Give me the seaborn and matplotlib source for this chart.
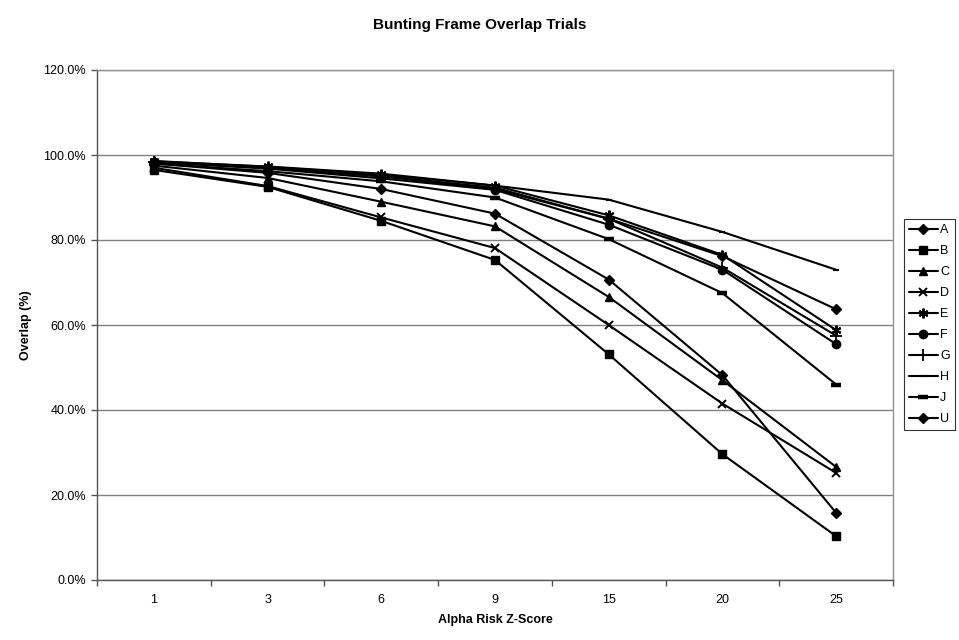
import matplotlib
matplotlib.use("Agg")
import matplotlib.pyplot as plt
import seaborn as sns
import pandas as pd
import numpy as np
from matplotlib.ticker import FixedLocator, PercentFormatter

# ---- data ----
zscores = ["1", "3", "6", "9", "15", "20", "25"]
series_names = ["A", "B", "C", "D", "E", "F", "G", "H", "J", "U"]
A = [98.0, 95.8, 92.0, 86.2, 70.7, 48.2, 15.8]
B = [96.5, 92.5, 84.5, 75.3, 53.1, 29.6, 10.3]
C = [97.5, 94.6, 89.0, 83.2, 66.6, 47.0, 26.6]
D = [97.0, 92.7, 85.3, 78.1, 60.0, 41.5, 25.2]
E = [98.5, 97.3, 95.6, 92.8, 85.8, 76.5, 58.8]
F = [98.3, 96.8, 94.5, 91.8, 83.6, 73.0, 55.5]
G = [98.4, 97.0, 95.0, 92.3, 85.0, 73.5, 57.5]
H = [98.6, 97.2, 95.4, 92.8, 89.5, 81.9, 73.0]
J = [98.0, 96.2, 93.8, 90.0, 80.2, 67.5, 46.0]
U = [98.4, 97.0, 95.0, 92.0, 85.0, 76.2, 63.7]
values = {"A": A, "B": B, "C": C, "D": D, "E": E, "F": F, "G": G, "H": H, "J": J, "U": U}

rows = []
for name in series_names:
    for i, (z, v) in enumerate(zip(zscores, values[name])):
        rows.append({"series": name, "pos": i, "zscore": z, "overlap": v})
df = pd.DataFrame(rows)

# ---- styles ----
marker_style = {
    "A": dict(marker="D", markersize=5, markeredgewidth=1),
    "B": dict(marker="s", markersize=6, markeredgewidth=1),
    "C": dict(marker="^", markersize=6, markeredgewidth=1),
    "D": dict(marker="x", markersize=6, markeredgewidth=1.4),
    "E": dict(marker=(6, 2, 0), markersize=7, markeredgewidth=1.5),
    "F": dict(marker="o", markersize=6, markeredgewidth=1),
    "G": dict(marker="+", markersize=8, markeredgewidth=1.3),
    "H": dict(marker="_", markersize=5, markeredgewidth=1.5),
    "J": dict(marker="_", markersize=7, markeredgewidth=3.2),
    "U": dict(marker="D", markersize=5, markeredgewidth=1),
}

sns.set_theme(style="white")
plt.rcParams["font.family"] = ["Liberation Sans", "DejaVu Sans"]
plt.rcParams["text.color"] = "black"
plt.rcParams["axes.labelcolor"] = "black"
plt.rcParams["xtick.color"] = "black"
plt.rcParams["ytick.color"] = "black"

fig = plt.figure(figsize=(9.59, 6.40), dpi=100)
ax = fig.add_axes([97 / 959, 1 - 580 / 640, (893 - 97) / 959, (580 - 70) / 640])

for name in series_names:
    sub = df[df["series"] == name]
    sns.lineplot(data=sub, x="pos", y="overlap", ax=ax, color="black",
                 linewidth=1.5, label=name, markeredgecolor="black",
                 markerfacecolor="black", **marker_style[name])

ax.set_xlim(-0.5, len(zscores) - 0.5)
ax.set_ylim(0, 120)
ax.xaxis.set_major_locator(FixedLocator(range(len(zscores))))
ax.set_xticklabels(zscores)
ax.xaxis.set_minor_locator(FixedLocator(np.arange(-0.5, len(zscores), 1.0)))
ax.yaxis.set_major_locator(FixedLocator(np.arange(0, 121, 20)))
ax.yaxis.set_major_formatter(PercentFormatter(decimals=1))
ax.tick_params(axis="x", which="major", length=0, labelsize=9, pad=10, labelcolor="black")
ax.tick_params(axis="x", which="minor", length=4, width=1, color="#555555", direction="out", bottom=True)
ax.tick_params(axis="y", which="major", length=4, width=1, color="#555555", direction="out", left=True,
               labelsize=9, pad=4, labelcolor="black")

ax.grid(axis="y", color="#808080", linewidth=1)
ax.set_axisbelow(True)
for side in ["top", "right"]:
    ax.spines[side].set_color("#909090")
    ax.spines[side].set_linewidth(1)
for side in ["left", "bottom"]:
    ax.spines[side].set_color("#555555")
    ax.spines[side].set_linewidth(1)

ax.set_xlabel("Alpha Risk Z-Score", fontsize=9, fontweight="bold", labelpad=6, color="black")
ax.set_ylabel("Overlap (%)", fontsize=9, fontweight="bold", labelpad=8, color="black")
fig.suptitle("Bunting Frame Overlap Trials", x=0.5, y=1 - 25 / 640, va="center",
             fontsize=11, fontweight="bold", color="black")

handles, labels = ax.get_legend_handles_labels()
ax.get_legend().remove()
leg = fig.legend(handles, labels, loc="upper left", bbox_to_anchor=(904 / 959, 1 - 219 / 640),
                 borderaxespad=0, frameon=True, fancybox=False, fontsize=9,
                 handlelength=2.3, handletextpad=0.2, labelspacing=0.72, borderpad=0.4)
leg.get_frame().set_edgecolor("black")
leg.get_frame().set_linewidth(0.8)
for t in leg.get_texts():
    t.set_color("black")

fig.savefig("out.png", dpi=100, facecolor="white")
